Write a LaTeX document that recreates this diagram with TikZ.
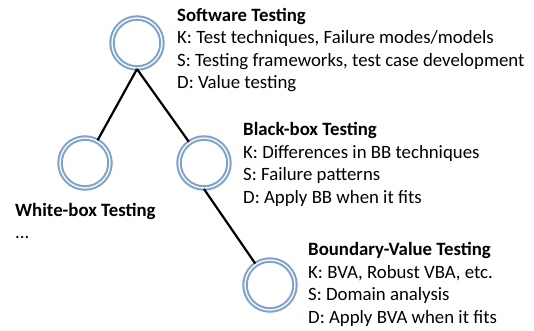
\documentclass[tikz,border=0pt]{standalone}
\usepackage{fontspec}
\setmainfont{Carlito}
\usetikzlibrary{positioning}

\definecolor{ringblue}{RGB}{128,163,204}

\begin{document}
\begin{tikzpicture}[
    x = 1pt, y = -1pt, % pixel grid of the slide
    link/.style = {draw = black, line width = 2.2pt}, % tree edges
    info/.style = {anchor = base west, align = left, inner sep = 0pt,
        font = \fontsize{18.8}{22.5}\selectfont} % base = last line
    ]

    \tikzset{topic/.style={
    circle,
    draw = ringblue,
    double = white,
    double distance = 1.3pt,
    line width = 2.1pt,
    fill = white,
    inner sep = 0pt,
    minimum size = 50pt
    }}
    \useasboundingbox (0,0) rectangle (534,330);

    \node[topic] (st) at (137,43) {};
    \node[topic] (wb) at (85,163) {};
    \node[topic] (bb) at (204,163) {};
    \node[topic] (bv) at (270,285) {};

    \path[link] (st.south) -- (wb);
    \path[link] (st.south) -- (bb);
    \path[link] (bb.south) -- (bv);

    \node[info] (stinfo) at (177,88.5) {\textbf{Software Testing}\\
        K: Test techniques, Failure modes/models\\
        S: Testing frameworks, test case development\\
        D: Value testing};
    \node[info] (bbinfo) at (243,203) {\textbf{Black-box Testing}\\
        K: Differences in BB techniques\\
        S: Failure patterns\\
        D: Apply BB when it fits};
    \node[info] (wbinfo) at (15,238.5) {\textbf{White-box Testing}\\
        ...};
    \node[info] (bvinfo) at (308,323) {\textbf{Boundary-Value Testing}\\
        K: BVA, Robust VBA, etc.\\
        S: Domain analysis\\
        D: Apply BVA when it fits};
\end{tikzpicture}
\end{document}
